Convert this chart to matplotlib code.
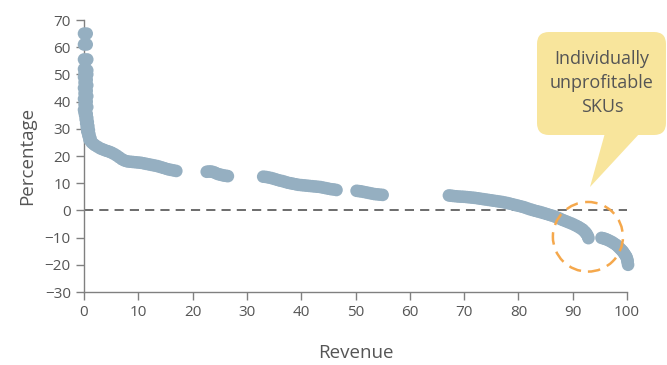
import numpy as np
import matplotlib.pyplot as plt
import matplotlib.transforms as mtransforms
from matplotlib.patches import Ellipse, FancyBboxPatch, Polygon

plt.rcParams['font.family'] = ['Open Sans', 'DejaVu Sans']

# SKU points: cumulative revenue share (x) vs. profit margin (y)
head_x = [0.0, 0.5, 0.0, 0.5, 0.0, 0.3, 0.6,
          0.0, 0.6, 0.1, 0.6, 0.0, 0.5, 0.1, 0.6, 0.0, 0.5, 0.1, 0.6, 0.0,
          0.5, 0.1, 0.6, 0.0, 0.3, 0.1, 0.5, 0.2, 0.6, 0.3, 0.7, 0.4, 0.8,
          0.5, 0.9, 0.6, 1.0, 0.8, 1.2, 1.0, 1.4, 1.7, 2.0, 2.5, 3.0, 3.5,
          4.0, 4.5, 5.0, 5.5, 6.0, 6.5, 7.0, 7.5, 8.0, 8.5, 9.0, 9.5, 10.0,
          10.5, 11.0, 11.5, 12.0, 12.5, 13.0, 13.5, 14.0, 14.5, 15.0, 15.5,
          16.0, 16.5, 17.0]
head_y = [65.0, 65.0, 61.0, 61.0, 55.5, 55.0, 55.5,
          52.0, 51.5, 50.5, 50.0, 49.0, 48.0, 47.0, 46.0, 45.0, 44.0, 43.0,
          42.0, 41.0, 40.0, 39.0, 38.0, 37.0, 36.5, 36.0, 35.5, 35.0, 34.0,
          33.5, 32.5, 32.0, 31.0, 30.5, 29.5, 29.0, 28.0, 27.5, 26.5, 26.0,
          25.0, 24.5, 24.0, 23.4, 22.8, 22.4, 22.0, 21.7, 21.3, 20.8, 20.2,
          19.5, 18.8, 18.3, 18.0, 17.9, 17.8, 17.7, 17.6, 17.5, 17.3, 17.1,
          16.9, 16.7, 16.5, 16.3, 16.0, 15.7, 15.4, 15.1, 14.9, 14.7, 14.5]

seg2_x = [22.6, 23.0, 23.4, 23.8, 24.2, 24.6, 25.0, 25.4, 25.8, 26.2, 26.5]
seg2_y = [14.2, 14.3, 14.3, 14.1, 13.8, 13.4, 13.2, 13.0, 12.8, 12.7, 12.6]

seg3_x = [33.0, 33.5, 34.0, 34.5, 35.0, 35.5, 36.0, 36.5, 37.0, 37.5, 38.0,
          38.5, 39.0, 39.5, 40.0, 40.5, 41.0, 41.5, 42.0, 42.5, 43.0, 43.5,
          44.0, 44.5, 45.0, 45.5, 46.0, 46.5]
seg3_y = [12.4, 12.3, 12.1, 11.9, 11.6, 11.3, 11.0, 10.8, 10.5, 10.2, 10.0,
          9.8, 9.6, 9.4, 9.3, 9.2, 9.1, 9.0, 8.9, 8.8, 8.7, 8.6,
          8.4, 8.2, 8.0, 7.8, 7.7, 7.5]

seg4_x = [50.2, 50.6, 51.0, 51.5, 52.0, 52.5, 53.0, 53.5, 54.0, 54.5, 55.0]
seg4_y = [7.2, 7.1, 7.0, 6.8, 6.6, 6.4, 6.2, 6.0, 5.9, 5.8, 5.7]

seg5_x = [67.2, 67.6, 68.0, 68.5, 69.0, 69.5, 70.0, 70.5, 71.0, 71.5, 72.0,
          72.5, 73.0, 73.5, 74.0, 74.5, 75.0, 75.5, 76.0, 76.5, 77.0, 77.5,
          78.0, 78.5, 79.0, 79.5, 80.0, 80.5, 81.0, 81.5, 82.0, 82.5, 83.0,
          83.5, 84.0, 84.5, 85.0, 85.5, 86.0, 86.5, 87.0, 87.5, 88.0, 88.5,
          89.0, 89.5, 90.0, 90.5, 91.0, 91.4, 91.8, 92.1, 92.4, 92.6, 92.8,
          92.9]
seg5_y = [5.5, 5.4, 5.3, 5.2, 5.1, 5.05, 5.0, 4.9, 4.8, 4.7, 4.6,
          4.45, 4.3, 4.15, 4.0, 3.85, 3.7, 3.55, 3.4, 3.25, 3.1, 2.9,
          2.7, 2.45, 2.2, 1.95, 1.7, 1.45, 1.2, 0.85, 0.5, 0.2, -0.1,
          -0.35, -0.6, -0.9, -1.2, -1.5, -1.8, -2.1, -2.5, -2.9, -3.4, -3.8,
          -4.2, -4.6, -5.0, -5.5, -6.0, -6.5, -7.0, -7.6, -8.2, -8.8, -9.5,
          -10.2]

tail_x = [95.3, 95.7, 96.0, 96.4, 96.8, 97.2, 97.5, 97.9, 98.2, 98.5, 98.8,
          99.1, 99.3, 99.5, 99.7, 99.9, 100.0, 100.1, 100.1, 100.2]
tail_y = [-10.1, -10.3, -10.5, -10.8, -11.2, -11.6, -12.0, -12.5, -13.0, -13.6,
          -14.2, -14.8, -15.3, -15.9, -16.5, -17.1, -17.8, -18.4, -19.0, -20.0]

x = head_x + seg2_x + seg3_x + seg4_x + seg5_x + tail_x
y = head_y + seg2_y + seg3_y + seg4_y + seg5_y + tail_y

xticks = list(range(0, 101, 10))
yticks = list(range(-30, 71, 10))

# highlighted region (loss-making SKUs)
circle_center = (92.8, -9.7)

W, H = 667, 365
fig = plt.figure(figsize=(W / 100, H / 100), dpi=100)
ax = fig.add_axes([84 / W, 73 / H, 543 / W, 272 / H])

grey = '#555555'
ax.axhline(0, color='#444444', lw=1.1, ls=(0, (6, 4)), zorder=1)
ax.scatter(x, y, s=82, color='#95AFC1', edgecolors='none', zorder=3, clip_on=False)

ax.set_xlim(0, 100)
ax.set_ylim(-30, 70)
ax.set_xticks(xticks)
ax.set_yticks(yticks)
for side in ('top', 'right'):
    ax.spines[side].set_visible(False)
for side in ('left', 'bottom'):
    ax.spines[side].set_color('#808080')
    ax.spines[side].set_linewidth(1.0)
ax.tick_params(colors='#808080', labelcolor=grey, labelsize=11, length=6, width=1.0)
ax.set_xlabel('Revenue', fontsize=13.5, color=grey, labelpad=17)
ax.set_ylabel('Percentage', fontsize=13.5, color=grey, labelpad=6)

ax.add_patch(Ellipse(circle_center, 12.9, 25.6, fill=False, edgecolor='#F5A84C',
                     lw=1.8, ls=(0, (5, 3)), zorder=4, clip_on=False))

# speech bubble, drawn in pixel coordinates
px = mtransforms.IdentityTransform()
bubble = '#F8E59C'
fig.patches.append(FancyBboxPatch((549, 242), 105, 79,
                                  boxstyle='round,pad=12,rounding_size=12',
                                  facecolor=bubble, edgecolor='none', transform=px))
fig.patches.append(Polygon([(605, 232), (640, 232), (590, 178)], closed=True,
                           facecolor=bubble, edgecolor='none', transform=px))
fig.text(602, 282, 'Individually\nunprofitable\nSKUs', transform=px, ha='center',
         va='center', fontsize=13, color=grey, linespacing=1.45)

fig.savefig('out.png', dpi=100)
